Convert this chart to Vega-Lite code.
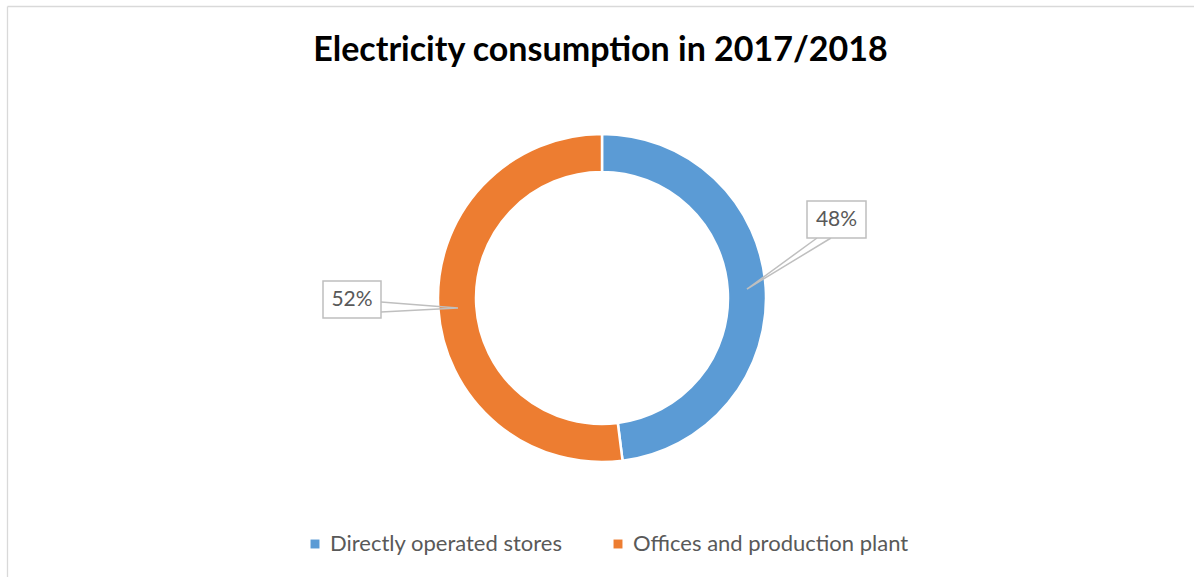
{
  "$schema": "https://vega.github.io/schema/vega-lite/v6.json",
  "width": 1194,
  "height": 577,
  "autosize": {"type": "fit", "contains": "padding"},
  "padding": {"left": 7, "top": 6, "right": 0, "bottom": 0},
  "background": "white",
  "view": {"stroke": null},
  "title": {
    "text": "Electricity consumption in 2017/2018",
    "font": "Lato",
    "fontWeight": "bold",
    "fontSize": 34,
    "color": "#000000",
    "anchor": "middle",
    "frame": "group",
    "baseline": "alphabetic",
    "offset": -89
  },
  "datasets": {
    "slices": [
      {"category": "Directly operated stores", "share": 48},
      {"category": "Offices and production plant", "share": 52}
    ],
    "boxes": [
      {"label": "48%", "x": 205, "x2": 264, "y": 97, "y2": 60, "tx": 234.5, "ty": 78},
      {"label": "52%", "x": -279, "x2": -221, "y": 17, "y2": -20, "tx": -250, "ty": -1.5}
    ],
    "wedges": [
      {"label": "48%", "seq": 1, "x": 215, "y": 60},
      {"label": "48%", "seq": 2, "x": 145, "y": 9},
      {"label": "48%", "seq": 3, "x": 229, "y": 60},
      {"label": "52%", "seq": 1, "x": -221, "y": -4},
      {"label": "52%", "seq": 2, "x": -144, "y": -10},
      {"label": "52%", "seq": 3, "x": -221, "y": -14}
    ]
  },
  "layer": [
    {
      "data": {"name": "slices"},
      "mark": {"type": "arc", "outerRadius": 164, "innerRadius": 126, "stroke": "white", "strokeWidth": 2.5},
      "encoding": {
        "x": {"datum": 0, "type": "quantitative", "scale": {"domain": [-595, 592], "nice": false, "zero": false},
              "axis": {"orient": "top", "domain": true, "domainColor": "#D9D9D9", "domainWidth": 1.3, "ticks": false, "labels": false, "grid": false, "title": null}},
        "y": {"datum": 0, "type": "quantitative", "scale": {"domain": [-279, 292], "nice": false, "zero": false},
              "axis": {"orient": "left", "domain": true, "domainColor": "#D9D9D9", "domainWidth": 1.3, "ticks": false, "labels": false, "grid": false, "title": null}},
        "theta": {"field": "share", "type": "quantitative", "stack": true},
        "color": {
          "field": "category",
          "type": "nominal",
          "scale": {"domain": ["Directly operated stores", "Offices and production plant"], "range": ["#5B9BD5", "#ED7D31"]},
          "legend": {
            "orient": "none",
            "direction": "horizontal",
            "legendX": 297,
            "legendY": 527,
            "title": null,
            "symbolType": "square",
            "symbolSize": 80,
            "symbolStrokeWidth": 0,
            "labelFont": "Lato",
            "labelFontSize": 22,
            "labelColor": "#595959",
            "labelOffset": 4,
            "labelLimit": 0,
            "columnPadding": 44,
            "padding": 0
          }
        }
      }
    },
    {
      "data": {"name": "wedges"},
      "mark": {"type": "line", "stroke": "#BFBFBF", "strokeWidth": 1.5},
      "encoding": {
        "x": {"field": "x", "type": "quantitative"},
        "y": {"field": "y", "type": "quantitative"},
        "detail": {"field": "label"},
        "order": {"field": "seq", "type": "quantitative"}
      }
    },
    {
      "data": {"name": "boxes"},
      "mark": {"type": "rect", "fill": "white", "stroke": "#BFBFBF", "strokeWidth": 1.5},
      "encoding": {
        "x": {"field": "x", "type": "quantitative"},
        "x2": {"field": "x2"},
        "y": {"field": "y", "type": "quantitative"},
        "y2": {"field": "y2"}
      }
    },
    {
      "data": {"name": "boxes"},
      "mark": {"type": "text", "font": "Lato", "fontSize": 21, "color": "#595959", "align": "center", "baseline": "middle"},
      "encoding": {
        "x": {"field": "tx", "type": "quantitative"},
        "y": {"field": "ty", "type": "quantitative"},
        "text": {"field": "label"}
      }
    }
  ]
}
